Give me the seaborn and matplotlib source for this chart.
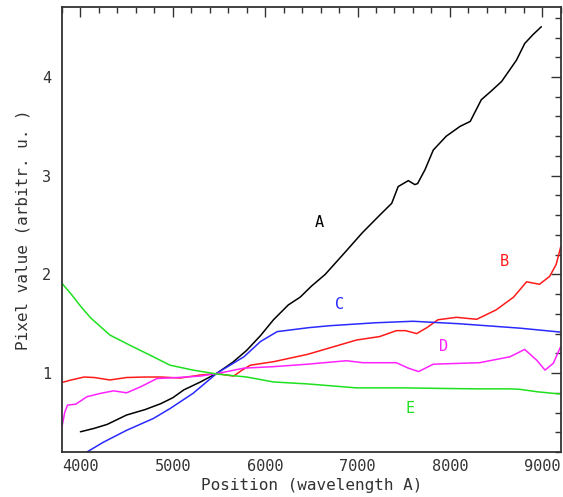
import matplotlib
matplotlib.use('Agg')
import matplotlib.pyplot as plt
import seaborn as sns
import pandas as pd
from matplotlib.ticker import MultipleLocator

# Spectra (wavelength in A, pixel value in arbitrary units)
a_x = [4000, 4150, 4290, 4500, 4700, 4870, 5000, 5120, 5300, 5480, 5650, 5800, 5950,
       6090, 6250, 6380, 6500, 6650, 6880, 7050, 7240, 7370, 7440, 7550, 7620, 7650,
       7730, 7820, 7960, 8110, 8220, 8340, 8450, 8560, 8720, 8810, 8900, 8990]
a_y = [0.405, 0.44, 0.48, 0.575, 0.63, 0.69, 0.75, 0.83, 0.91, 1.0, 1.11, 1.23, 1.38,
       1.54, 1.69, 1.77, 1.88, 2.0, 2.24, 2.42, 2.60, 2.72, 2.89, 2.95, 2.91, 2.92,
       3.06, 3.26, 3.40, 3.50, 3.55, 3.77, 3.86, 3.955, 4.17, 4.34, 4.43, 4.51]

b_x = [3800, 3900, 4040, 4150, 4320, 4500, 4700, 4870, 5080, 5300, 5480, 5580, 5660,
       5750, 5840, 6090, 6460, 6990, 7240, 7420, 7520, 7640, 7750, 7870, 8070, 8290,
       8500, 8690, 8830, 8970, 9080, 9150, 9200]
b_y = [0.905, 0.93, 0.96, 0.955, 0.93, 0.955, 0.96, 0.96, 0.95, 0.98, 0.995, 0.98, 0.97,
       1.03, 1.08, 1.115, 1.19, 1.335, 1.37, 1.43, 1.43, 1.40, 1.46, 1.54, 1.565, 1.545,
       1.64, 1.77, 1.925, 1.90, 1.98, 2.10, 2.28]

c_x = [4070, 4250, 4500, 4790, 4970, 5220, 5480, 5770, 5950, 6130, 6470, 6700, 7200,
       7600, 8100, 8760, 9200]
c_y = [0.20, 0.30, 0.42, 0.54, 0.64, 0.795, 1.0, 1.165, 1.32, 1.42, 1.46, 1.48, 1.51,
       1.525, 1.50, 1.455, 1.415]

d_x = [3800, 3830, 3860, 3950, 4070, 4220, 4360, 4500, 4650, 4830, 5050, 5300, 5480,
       5770, 6090, 6460, 6880, 7060, 7420, 7550, 7660, 7820, 8320, 8650, 8810, 8940,
       9030, 9120, 9200]
d_y = [0.455, 0.6, 0.675, 0.685, 0.76, 0.795, 0.82, 0.80, 0.86, 0.945, 0.955, 0.97, 0.995,
       1.05, 1.065, 1.09, 1.125, 1.105, 1.105, 1.05, 1.015, 1.09, 1.105, 1.165, 1.24, 1.13,
       1.03, 1.10, 1.27]

e_x = [3800, 3900, 4000, 4110, 4320, 4540, 4790, 4970, 5220, 5480, 5800, 6090, 6460,
       6990, 7500, 7860, 8300, 8650, 8760, 8950, 9170, 9200]
e_y = [1.91, 1.80, 1.68, 1.56, 1.385, 1.28, 1.165, 1.08, 1.03, 0.99, 0.96, 0.91, 0.89,
       0.85, 0.85, 0.845, 0.84, 0.84, 0.835, 0.81, 0.79, 0.79]

names = ['A', 'B', 'C', 'D', 'E']
colors = ['#000000', '#ff1a1a', '#2a2aff', '#ff22ff', '#1ee01e']
label_x = [6590, 8590, 6810, 7935, 7570]
label_y = [2.53, 2.13, 1.69, 1.27, 0.645]

sns.set_style('white')
plt.rcParams['font.family'] = ['DejaVu Sans Mono', 'DejaVu Sans']

fig = plt.figure(figsize=(5.63, 4.97), dpi=100)
ax = fig.add_axes([0.110, 0.0905, 0.886, 0.8955])

series = [(a_x, a_y), (b_x, b_y), (c_x, c_y), (d_x, d_y), (e_x, e_y)]
for (xs, ys), name, col in zip(series, names, colors):
    df = pd.DataFrame({'x': xs, 'y': ys})
    sns.lineplot(data=df, x='x', y='y', ax=ax, color=col, linewidth=1.1,
                 sort=False, estimator=None)

for name, col, lx, ly in zip(names, colors, label_x, label_y):
    ax.text(lx, ly, name, color=col, fontsize=11, ha='center', va='center')

ax.set_xlim(3800, 9200)
ax.set_ylim(0.2, 4.71)
ax.xaxis.set_major_locator(MultipleLocator(1000))
ax.xaxis.set_minor_locator(MultipleLocator(200))
ax.yaxis.set_major_locator(MultipleLocator(1))
ax.yaxis.set_minor_locator(MultipleLocator(0.2))

ax.tick_params(which='both', direction='in', top=True, right=True,
               color='#333333', width=1.0, labelsize=11, labelcolor='#333333')
ax.tick_params(which='major', length=7)
ax.tick_params(axis='y', which='major', pad=8)
ax.tick_params(axis='x', which='major', pad=5)
ax.tick_params(which='minor', length=4.5)
for sp in ax.spines.values():
    sp.set_color('#333333')
    sp.set_linewidth(1.3)

ax.set_xlabel('Position (wavelength A)', fontsize=11.5, color='#333333', labelpad=3)
ax.set_ylabel('Pixel value (arbitr. u. )', fontsize=11.5, color='#333333', labelpad=8)

fig.savefig('out.png', dpi=100)
